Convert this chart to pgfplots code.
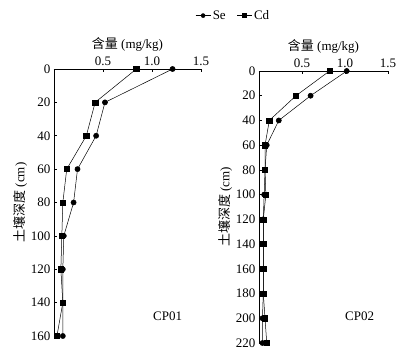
\documentclass[border=0pt]{standalone}
\usepackage{pgfplots}
\pgfplotsset{compat=1.18}
\usepackage{fontspec}
\setmainfont{Liberation Serif}
\newfontfamily\cjk{Noto Sans CJK SC}
\begin{document}
\begin{tikzpicture}
\useasboundingbox (0pt,0pt) rectangle (408pt,359pt);
\pgfplotsset{
  myax/.style={
    scale only axis, y dir=reverse, xmin=0, xmax=1.5,
    axis x line*=top, axis y line*=left,
    axis line style={-, black, line width=0.6pt},
    tick align=inside, major tick length=3pt,
    tick style={black, line width=0.6pt},
    xtick={0.5,1,1.5},
    xticklabel style={/pgf/number format/.cd,fixed,fixed zerofill,precision=1},
    /pgf/number format/assume math mode=true,
    ticklabel style={font=\fontsize{13}{15}\selectfont},
    label style={font=\fontsize{13}{15}\selectfont},
    xlabel={{\cjk 含量} (mg/kg)},
    ylabel={{\cjk 土壤深度} (cm)},
    ylabel style={yshift=-3pt},
    xlabel style={yshift=-2pt},
    clip=false,
    every axis plot/.append style={black, line width=0.5pt},
  },
}
\begin{axis}[myax, at={(54pt,23pt)}, anchor=south west, width=147pt, height=267pt,
  ymin=0, ymax=160, ytick={0,20,...,160},
  legend columns=2,
  legend style={at={(1.22,1.2)}, anchor=center, draw=none, fill=none,
    font=\fontsize{13}{15}\selectfont},
  legend image code/.code={\draw[#1,mark repeat=2,mark phase=2,mark size=2pt] plot coordinates {(0cm,0cm) (0.26cm,0cm) (0.52cm,0cm)};},
]
\addplot[mark=*, mark size=2.6pt] coordinates {
(1.21,0) (0.52,20) (0.43,40) (0.24,60) (0.20,80) (0.10,100) (0.09,120) (0.09,140) (0.09,160)};
\addlegendentry{\makebox[22pt][l]{Se}}
\addplot[mark=square*, mark size=2.6pt] coordinates {
(0.84,0) (0.42,20) (0.33,40) (0.13,60) (0.09,80) (0.08,100) (0.07,120) (0.09,140) (0.03,160)};
\addlegendentry{Cd}
\node[font=\fontsize{13}{15}\selectfont] at (axis cs:1.16,148) {CP01};
\end{axis}
\begin{axis}[myax, at={(259pt,16pt)}, anchor=south west, width=129pt, height=272pt,
  ymin=0, ymax=220, ytick={0,20,...,220}]
\addplot[mark=*, mark size=2.6pt] coordinates {
(1.02,0) (0.60,20) (0.23,40) (0.09,60) (0.07,80) (0.06,100) (0.05,120) (0.05,140) (0.05,160) (0.05,180) (0.04,200) (0.04,220)};
\addplot[mark=square*, mark size=2.6pt] coordinates {
(0.82,0) (0.43,20) (0.12,40) (0.07,60) (0.07,80) (0.08,100) (0.05,120) (0.05,140) (0.05,160) (0.05,180) (0.07,200) (0.09,220)};
\node[font=\fontsize{13}{15}\selectfont] at (axis cs:1.17,198.5) {CP02};
\end{axis}
\end{tikzpicture}
\end{document}
